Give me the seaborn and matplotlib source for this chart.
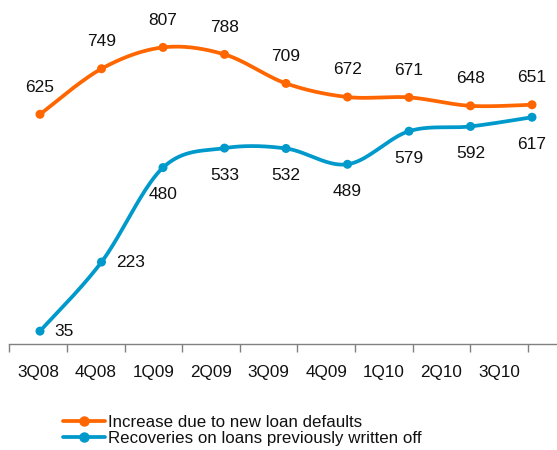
import numpy as np
import pandas as pd
import matplotlib
matplotlib.use("Agg")
import matplotlib.pyplot as plt
from matplotlib.lines import Line2D
import seaborn as sns

sns.set_style("white")
plt.rcParams["font.family"] = ["Liberation Sans", "DejaVu Sans"]

quarters = ["3Q08", "4Q08", "1Q09", "2Q09", "3Q09", "4Q09", "1Q10", "2Q10", "3Q10"]
new_defaults = [625, 749, 807, 788, 709, 672, 671, 648, 651]
recoveries = [35, 223, 480, 533, 532, 489, 579, 592, 617]

ORANGE = "#FF6600"
BLUE = "#0099CC"
TEXT = "#111111"


def smooth(xs, ys, steps=40):
    """Catmull-Rom curve through the points (the 'smoothed line' style)."""
    p = np.column_stack([xs, ys]).astype(float)
    p = np.vstack([p[0], p, p[-1]])
    out = []
    t = np.linspace(0, 1, steps)[:, None]
    for i in range(1, len(p) - 2):
        p0, p1, p2, p3 = p[i - 1], p[i], p[i + 1], p[i + 2]
        seg = 0.5 * ((2 * p1) + (-p0 + p2) * t + (2 * p0 - 5 * p1 + 4 * p2 - p3) * t ** 2
                     + (-p0 + 3 * p1 - 3 * p2 + p3) * t ** 3)
        out.append(seg if i == 1 else seg[1:])
    out = np.vstack(out)
    return out[:, 0], out[:, 1]


W, H = 557, 450
fig = plt.figure(figsize=(W / 100, H / 100), dpi=100)
left_px, axis_px = 9.3, 344
ax = fig.add_axes([left_px / W, (H - axis_px) / H, 1 - left_px / W, axis_px / H])

# category axis
ax.set_xlim(-0.5, -0.5 + (W - left_px) / 57.6)
ax.set_ylim(0, 936)
ax.set_xticks(range(len(quarters)))
ax.set_xticklabels(quarters, fontsize=12.3, color=TEXT)
ax.set_xticks(np.arange(-0.5, len(quarters) + 0.5, 1), minor=True)
ax.tick_params(axis="x", which="major", length=0, pad=15)
ax.tick_params(axis="x", which="minor", length=6, width=1, color="#808080", direction="out")
ax.set_yticks([])
for s in ["left", "right", "top"]:
    ax.spines[s].set_visible(False)
ax.spines["bottom"].set_color("#808080")
ax.spines["bottom"].set_linewidth(1)

# series axis
ax2 = ax.twiny()
step = 61.5
a = -(40 - left_px) / step
ax2.set_xlim(a, a + (W - left_px) / step)
ax2.set_xticks([])
for s in ax2.spines.values():
    s.set_visible(False)

idx = np.arange(len(quarters))
for vals, color in [(new_defaults, ORANGE), (recoveries, BLUE)]:
    sx, sy = smooth(idx, vals)
    curve = pd.DataFrame({"x": sx, "y": sy})
    sns.lineplot(data=curve, x="x", y="y", sort=False, estimator=None, ax=ax2,
                 color=color, lw=2.7, solid_capstyle="round")
    sns.scatterplot(x=idx, y=vals, ax=ax2, color=color, s=42, edgecolor="none", zorder=5)
ax2.set_xlabel("")
ax2.set_ylabel("")

for i, v in enumerate(new_defaults):
    ax2.annotate(str(v), (i, v), xytext=(0, 19.5), textcoords="offset points",
                 ha="center", va="center", fontsize=12.5, color=TEXT)
for i, v in enumerate(recoveries):
    if i < 2:
        ax2.annotate(str(v), (i, v), xytext=(10.5, 0), textcoords="offset points",
                     ha="left", va="center", fontsize=12.5, color=TEXT)
    else:
        ax2.annotate(str(v), (i, v), xytext=(0, -19.5), textcoords="offset points",
                     ha="center", va="center", fontsize=12.5, color=TEXT)

handles = [
    Line2D([], [], color=ORANGE, lw=2.7, marker="o", markersize=6.5),
    Line2D([], [], color=BLUE, lw=2.7, marker="o", markersize=6.5),
]
fig.legend(handles, ["Increase due to new loan defaults",
                     "Recoveries on loans previously written off"],
           loc="upper left", bbox_to_anchor=(63 / W, 1 - 415 / H), frameon=False,
           fontsize=12.2, handlelength=2.45, handletextpad=0.2, labelspacing=0.05,
           borderpad=0, borderaxespad=0, markerfirst=True, labelcolor=TEXT)

fig.savefig("out.png", dpi=100)
